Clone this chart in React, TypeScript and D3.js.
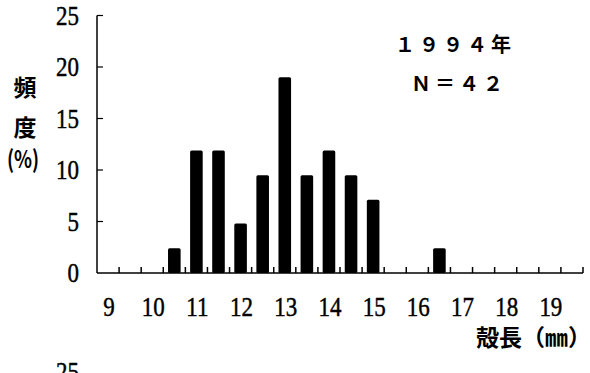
import { useEffect, useRef } from "react";
import * as d3 from "d3";

// shell length classes (mm), half-mm steps
const categories = [9, 9.5, 10, 10.5, 11, 11.5, 12, 12.5, 13, 13.5, 14, 14.5, 15, 15.5, 16, 16.5, 17, 17.5, 18, 18.5, 19, 19.5];
// frequency (%) per class, N = 42
const frequency = [0, 0, 0, 2.4, 11.9, 11.9, 4.8, 9.5, 19.0, 9.5, 11.9, 9.5, 7.1, 0, 0, 2.4, 0, 0, 0, 0, 0, 0];
const yTicks = [0, 5, 10, 15, 20, 25];
const xTickLabels = [9, 10, 11, 12, 13, 14, 15, 16, 17, 18, 19];

const W = 590;
const H = 373;
const SERIF = "'Liberation Serif', 'DejaVu Serif', serif";
const CJK = "'Noto Sans CJK JP', 'Noto Sans CJK SC', sans-serif";

export default function App() {
  const svgRef = useRef<SVGSVGElement>(null);

  useEffect(() => {
    if (!svgRef.current) return;
    const svg = d3.select(svgRef.current);
    svg.selectAll("*").remove();

    const x0 = 97, x1 = 583, yTop = 15.5, yBase = 273;

    const x = d3.scaleBand<number>().domain(categories).range([x0, x1]).padding(0);
    const y = d3.scaleLinear().domain([0, 25]).range([yBase, yTop]);
    const barW = x.bandwidth() * 0.57;

    // bars
    svg.append("g")
      .selectAll("rect")
      .data(categories.map((c, i) => ({ c, v: frequency[i] })).filter(d => d.v > 0))
      .join("rect")
      .attr("x", d => x(d.c)! + (x.bandwidth() - barW) / 2)
      .attr("y", d => y(d.v))
      .attr("width", barW)
      .attr("height", d => yBase - y(d.v))
      .attr("rx", 1.5)
      .attr("fill", "#000");

    // axes lines
    svg.append("line")
      .attr("x1", x0).attr("x2", x0).attr("y1", yTop).attr("y2", yBase)
      .attr("stroke", "#000").attr("stroke-width", 1.5);
    svg.append("line")
      .attr("x1", x0).attr("x2", x1).attr("y1", yBase).attr("y2", yBase)
      .attr("stroke", "#000").attr("stroke-width", 1.5);

    // y ticks, pointing inward
    svg.append("g")
      .selectAll("line")
      .data(yTicks.filter(t => t > 0))
      .join("line")
      .attr("x1", x0).attr("x2", x0 + 6)
      .attr("y1", d => y(d)).attr("y2", d => y(d))
      .attr("stroke", "#000").attr("stroke-width", 1.2);

    // x ticks at class boundaries
    svg.append("g")
      .selectAll("line")
      .data(categories.slice(1).concat([-1]))
      .join("line")
      .attr("x1", d => (d === -1 ? x1 : x(d)!))
      .attr("x2", d => (d === -1 ? x1 : x(d)!))
      .attr("y1", yBase).attr("y2", yBase - 6)
      .attr("stroke", "#000").attr("stroke-width", 1.5);

    // y tick labels (tall serif digits)
    svg.append("g")
      .selectAll("text")
      .data(yTicks)
      .join("text")
      .attr("transform", d => `translate(79,${y(d) + 9}) scale(1,1.22)`)
      .attr("text-anchor", "end")
      .attr("font-family", SERIF)
      .attr("font-size", 23)
      .attr("fill", "#000")
      .attr("stroke", "#000")
      .attr("stroke-width", 0.4)
      .text(d => d);

    // x tick labels
    svg.append("g")
      .selectAll("text")
      .data(xTickLabels)
      .join("text")
      .attr("transform", d => `translate(${x(d)! + x.bandwidth() / 2 + 1},316) scale(1,1.22)`)
      .attr("text-anchor", "middle")
      .attr("font-family", SERIF)
      .attr("font-size", 23)
      .attr("fill", "#000")
      .attr("stroke", "#000")
      .attr("stroke-width", 0.4)
      .text(d => d);

    // y axis title, stacked
    const yTitle = [
      { t: "頻", y: 96 },
      { t: "度", y: 136 },
    ];
    svg.append("g")
      .selectAll("text")
      .data(yTitle)
      .join("text")
      .attr("x", 25).attr("y", d => d.y)
      .attr("text-anchor", "middle")
      .attr("font-family", CJK)
      .attr("font-weight", 700)
      .attr("font-size", 23)
      .attr("fill", "#000")
      .text(d => d.t);
    svg.append("text")
      .attr("transform", "translate(23,168) scale(0.85,1.1)")
      .attr("text-anchor", "middle")
      .attr("font-family", CJK)
      .attr("font-weight", 700)
      .attr("font-size", 22)
      .attr("fill", "#000")
      .text("(%)");

    // x axis title
    svg.append("text")
      .attr("x", 591).attr("y", 346)
      .attr("text-anchor", "end")
      .attr("font-family", CJK)
      .attr("font-weight", 700)
      .attr("font-size", 23)
      .attr("fill", "#000")
      .text("殻長（㎜）");

    // annotation
    const note = svg.append("g")
      .attr("font-family", CJK)
      .attr("font-weight", 700)
      .attr("font-size", 20)
      .attr("fill", "#000");
    note.append("text").attr("x", 395).attr("y", 52).attr("letter-spacing", 4).text("１９９４年");
    note.append("text").attr("x", 411).attr("y", 91).attr("letter-spacing", 4).text("Ｎ＝４２");

    // top of the next panel's axis label, cut off by the frame
    svg.append("text")
      .attr("transform", `translate(79,${363 + 18}) scale(1,1.22)`)
      .attr("text-anchor", "end")
      .attr("font-family", SERIF)
      .attr("font-size", 23)
      .attr("fill", "#000")
      .attr("stroke", "#000")
      .attr("stroke-width", 0.4)
      .text("25");
  }, []);

  return (
    <svg
      ref={svgRef}
      width={W}
      height={H}
      style={{ position: "absolute", left: 0, top: 0, background: "#fff" }}
    />
  );
}
